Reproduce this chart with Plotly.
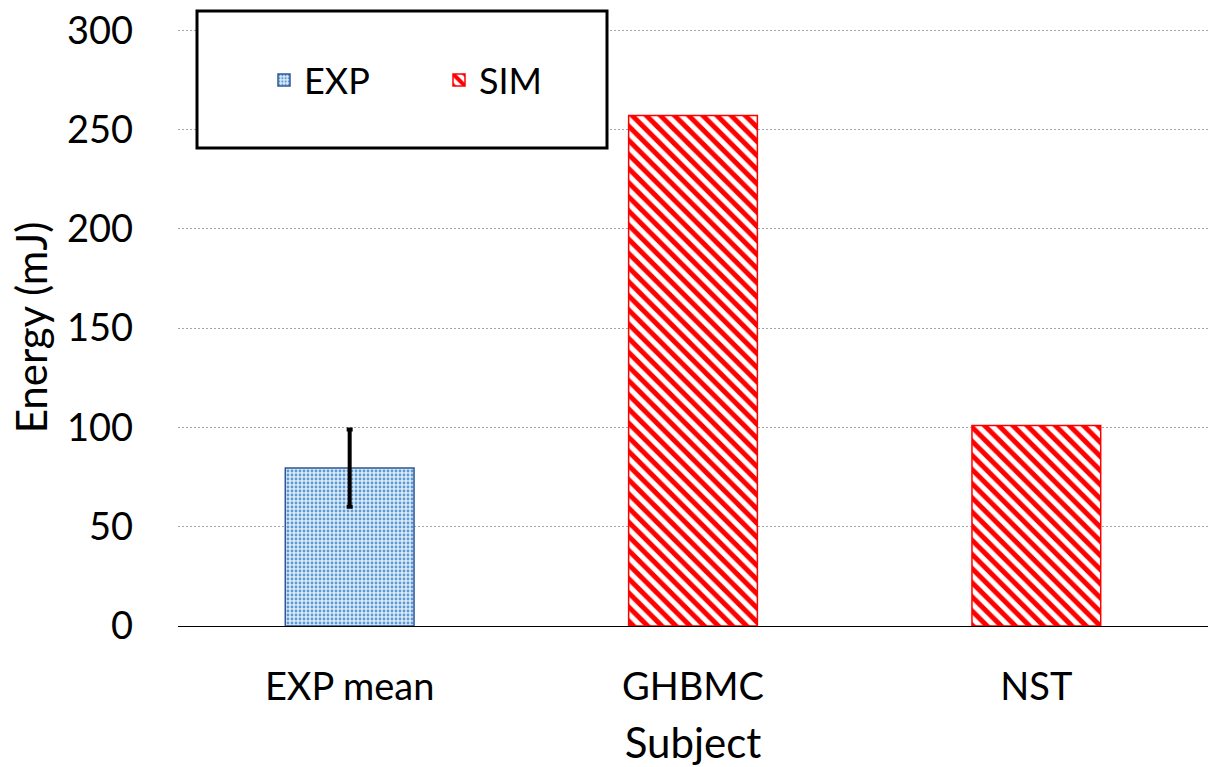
import plotly.graph_objects as go

# Data
exp_subjects = ["EXP mean"]
exp_energy = [79.5]
exp_error = [19.5]

sim_subjects = ["GHBMC", "NST"]
sim_energy = [257.0, 101.0]

categories = ["EXP mean", "GHBMC", "NST"]
y_ticks = [0, 50, 100, 150, 200, 250, 300]

FONT = "Lato, 'Open Sans', sans-serif"

# plot area geometry in pixels
W, H = 1208, 767
L, R, T, B = 178, 0, 29, 141
PW, PH = W - L - R, H - T - B


def px_x(x):
    return (x - L) / PW


def px_y(y):
    return (H - B - y) / PH


fig = go.Figure()

fig.add_trace(go.Bar(
    name="EXP",
    x=exp_subjects,
    y=exp_energy,
    width=0.375,
    marker=dict(
        color="#deebf7",
        line=dict(color="#2f5597", width=1.5),
        pattern=dict(shape=".", fgcolor="#5b9bd5", bgcolor="#deebf7",
                     size=4, solidity=0.4, fillmode="replace", fgopacity=1),
    ),
    error_y=dict(type="data", array=exp_error, visible=True,
                 color="black", thickness=4, width=3),
))

fig.add_trace(go.Bar(
    name="SIM",
    x=sim_subjects,
    y=sim_energy,
    width=0.375,
    marker=dict(
        color="white",
        line=dict(color="#ff0000", width=1.5),
        pattern=dict(shape="\\", fgcolor="#ff0000", bgcolor="white",
                     size=10, solidity=0.5, fillmode="replace", fgopacity=1),
    ),
))

# Legend frame
fig.add_shape(type="rect", xref="paper", yref="paper",
              x0=px_x(197), x1=px_x(607),
              y0=px_y(148), y1=px_y(11),
              line=dict(color="black", width=3), fillcolor="white",
              layer="above")

fig.update_layout(
    width=W, height=H,
    margin=dict(l=L, r=R, t=T, b=B),
    paper_bgcolor="white", plot_bgcolor="white",
    barmode="overlay",
    font=dict(family=FONT, size=38, color="black"),
    showlegend=True,
    legend=dict(
        orientation="h",
        x=px_x(264), xanchor="left",
        y=px_y(80), yanchor="middle",
        bgcolor="rgba(0,0,0,0)",
        font=dict(family=FONT, size=36, color="black"),
        entrywidth=130, entrywidthmode="pixels",
        traceorder="normal",
    ),
    xaxis=dict(
        categoryorder="array", categoryarray=categories,
        showline=True, linecolor="black", linewidth=1,
        ticks="", showgrid=False,
        ticklabelstandoff=27,
        title=dict(text="Subject", font=dict(size=42), standoff=24),
        tickfont=dict(size=38),
    ),
    yaxis=dict(
        range=[0, 300.6], tickvals=y_ticks,
        showgrid=True, gridcolor="#a6a6a6", gridwidth=1, griddash="2px,2px",
        showline=False, zeroline=False, ticks="",
        ticklabelstandoff=44,
        title=dict(text="Energy (mJ)", font=dict(size=42), standoff=6),
        tickfont=dict(size=38),
    ),
)

fig.write_html("out.html")
